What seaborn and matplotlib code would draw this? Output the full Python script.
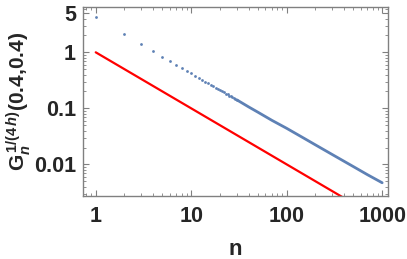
import matplotlib
matplotlib.use("Agg")
import matplotlib.pyplot as plt
import seaborn as sns

# G_n^{1/(4h)}(0.4,0.4): single dots for small n,
# dense part (dots merge into a line) as a polyline
n_dots = list(range(1, 31))
g_dots = [4.22, 2.11, 1.41, 1.05, 0.84, 0.70, 0.60, 0.53, 0.47, 0.42,
          0.382, 0.351, 0.324, 0.301, 0.281, 0.264, 0.248, 0.234, 0.222, 0.211,
          0.201, 0.192, 0.184, 0.177, 0.169, 0.163, 0.157, 0.151, 0.146, 0.142]
n_line = [30, 40, 50, 70, 100, 150, 200, 300, 500, 700, 1000]
g_line = [0.142, 0.106, 0.0853, 0.0611, 0.044, 0.0296, 0.0223, 0.0150,
          0.00912, 0.00656, 0.0047]

# reference slope 1/n
n_ref = [1, 1000]
g_ref = [1.0, 0.001]

x_ticks = [1, 10, 100, 1000]
x_labels = ["1", "10", "100", "1000"]
y_ticks = [0.01, 0.1, 1, 5]
y_labels = ["0.01", "0.1", "1", "5"]

sns.set_theme(style="ticks")
plt.rcParams.update({
    "font.family": ["Liberation Sans", "DejaVu Sans"],
    "font.weight": "bold",
    "mathtext.fontset": "custom",
    "mathtext.rm": "Liberation Sans:bold",
    "mathtext.it": "Liberation Sans:bold:italic",
    "mathtext.bf": "Liberation Sans:bold",
})

blue = "#5E81B5"
frame = "#808080"

fig = plt.figure(figsize=(4.07, 2.59), dpi=100)
ax = fig.add_axes([0.204, 0.243, 0.749, 0.730])
ax.set_xscale("log")
ax.set_yscale("log")

sns.scatterplot(x=n_dots, y=g_dots, ax=ax, s=4, color=blue, linewidth=0)
sns.lineplot(x=n_line, y=g_line, ax=ax, color=blue, lw=2.0)
sns.lineplot(x=n_ref, y=g_ref, ax=ax, color="#FF0000", lw=1.6)

ax.set_xlim(0.736, 1148)
ax.set_ylim(0.00272, 6.44)
ax.set_xticks(x_ticks, x_labels)
ax.set_yticks(y_ticks, y_labels)

for s in ax.spines.values():
    s.set_color(frame)
    s.set_linewidth(1.0)
ax.tick_params(which="both", direction="in", top=True, right=True,
               color=frame, labelsize=15.5, pad=5)
ax.tick_params(which="major", length=4, width=0.8)
ax.tick_params(which="minor", length=2, width=0.6)
ax.tick_params(axis="x", which="major", pad=7)
for lab in ax.get_xticklabels() + ax.get_yticklabels():
    lab.set_fontweight("bold")

ax.set_xlabel("n", fontsize=16, fontweight="bold", labelpad=9)
ax.set_ylabel(r"$\mathrm{G}_{\mathit{n}}^{\,1/(4\,\mathit{h})}$(0.4,0.4)",
              fontsize=15, fontweight="bold")
ax.yaxis.set_label_coords(-0.165, 0.5)

fig.savefig("out.png", dpi=100)
